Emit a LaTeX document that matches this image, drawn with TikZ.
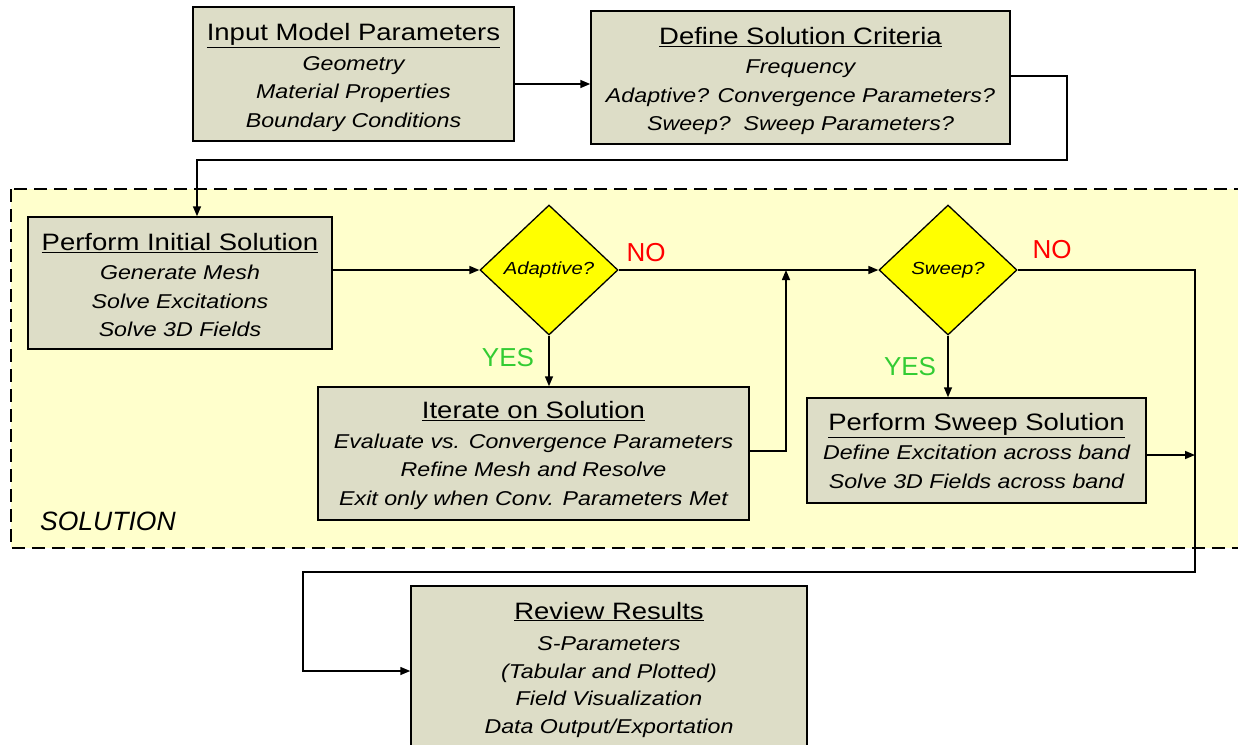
\documentclass[tikz,border=0pt]{standalone}
\usepackage{fontspec}
\setmainfont[FakeStretch=1.16]{Liberation Sans}
\newfontfamily\plainfont{Liberation Sans}
\usetikzlibrary{shapes.geometric,arrows.meta}
\definecolor{boxfill}{RGB}{221,221,199}
\definecolor{regionfill}{RGB}{255,255,204}
\definecolor{diafill}{RGB}{255,255,0}
\definecolor{yesgreen}{RGB}{51,204,51}
\definecolor{nored}{RGB}{255,0,0}
\newcommand\ttl[1]{{\upshape\fontsize{23.7}{28.5}\selectfont\underline{#1}}\\[1pt]}
\tikzset{
  boxshape/.style={draw=black, fill=boxfill, line width=1.5pt, inner sep=0pt},
  boxtxt/.style={align=center, inner sep=0pt, font=\fontsize{20}{28.5}\selectfont\itshape},
  dec/.style={diamond, draw=black, fill=diafill, line width=1.3pt, inner sep=0pt,
    minimum width=138pt, minimum height=130pt, font=\fontsize{17.5}{20}\selectfont\itshape},
  conn/.style={line width=1.5pt, draw=black},
  arr/.style={conn, -{Triangle[length=10pt,width=8pt]}},
  yeslab/.style={text=yesgreen, font=\plainfont\fontsize{26}{28}\selectfont, inner sep=0pt},
  nolab/.style={text=nored, font=\plainfont\fontsize{26}{28}\selectfont, inner sep=0pt},
  region/.style={draw=black, fill=regionfill, line width=1.5pt, dash pattern=on 13pt off 7pt}
}
\begin{document}
\begin{tikzpicture}[x=1pt,y=-1pt]
\useasboundingbox (0,0) rectangle (1238,744);
\clip (0,0) rectangle (1238,744);
\fill[white] (0,0) rectangle (1238,744);
\draw[region] (11,189) rectangle (1250,548);
\node[anchor=west, font=\plainfont\itshape\fontsize{26.5}{28}\selectfont, inner sep=0pt] (sol) at (40,521) {SOLUTION};

\node[boxshape, minimum width=321pt, minimum height=134pt] (inp) at (353.5,74) {};
\node[boxtxt] (inpT) at ([yshift=-3.5pt]inp.center)
  {\ttl{Input Model Parameters}Geometry\\Material Properties\\Boundary Conditions};
\node[boxshape, minimum width=419pt, minimum height=133pt] (crit) at (800.5,77.5) {};
\node[boxtxt] (critT) at ([yshift=-3.5pt]crit.center)
  {\ttl{Define Solution Criteria}Frequency\\Adaptive? Convergence Parameters?\\Sweep?\ \ Sweep Parameters?};
\node[boxshape, minimum width=304pt, minimum height=132pt] (init) at (180,283) {};
\node[boxtxt] (initT) at ([yshift=-2pt]init.center)
  {\ttl{Perform Initial Solution}Generate Mesh\\Solve Excitations\\Solve 3D Fields};
\node[boxshape, minimum width=431pt, minimum height=133pt] (iter) at (533.5,453.5) {};
\node[boxtxt] (iterT) at ([yshift=-2pt]iter.center)
  {\ttl{Iterate on Solution}Evaluate vs. Convergence Parameters\\Refine Mesh and Resolve\\Exit only when Conv. Parameters Met};
\node[boxshape, minimum width=339pt, minimum height=105pt] (swp) at (976.5,450.5) {};
\node[boxtxt] (swpT) at ([yshift=-0.5pt]swp.center)
  {\ttl{Perform Sweep Solution}Define Excitation across band\\Solve 3D Fields across band};
\node[boxshape, minimum width=396pt, minimum height=164pt] (rev) at (609,668) {};
\node[boxtxt, font=\fontsize{20}{27.5}\selectfont\itshape] (revT) at ([yshift=-1.5pt]rev.center)
  {{\upshape\fontsize{23.7}{27.5}\selectfont\underline{Review Results}}\\[4pt]S-Parameters\\(Tabular and Plotted)\\Field Visualization\\Data Output/Exportation};

\node[dec] (adapt) at (549,270) {Adaptive?};
\node[dec] (sweep) at (948,270) {Sweep?};

\node[nolab] (no1) at (646,253) {NO};
\node[nolab] (no2) at (1052,250) {NO};
\node[yeslab] (yes1) at (508,358) {YES};
\node[yeslab] (yes2) at (910,367) {YES};

\coordinate (p84) at (0,84);
\coordinate (c1) at (1067,76);
\coordinate (c2) at (1067,160);
\coordinate (c3) at (197,160);
\coordinate (j1) at (786,451);
\coordinate (r1) at (1195,270);
\coordinate (r2) at (1195,572);
\coordinate (r3) at (303,572);
\coordinate (r4) at (303,671);
\coordinate (p455) at (0,455);

\draw[arr] (inp.east |- p84) -- (crit.west |- p84);
\draw[arr] (crit.east |- c1) -- (c1) -- (c2) -- (c3) -- (init.north -| c3);
\draw[arr] (init.east |- adapt.west) -- (adapt.west);
\draw[arr] (adapt.east) -- (sweep.west);
\draw[arr] (iter.east |- j1) -- (j1) -- (j1 |- adapt.east);
\draw[arr] (adapt.south) -- (adapt.south |- iter.north);
\draw[arr] (sweep.south) -- (sweep.south |- swp.north);
\draw[arr] (sweep.east) -- (sweep.east -| r1) -- (r2) -- (r3) -- (r4) -- (rev.west |- r4);
\draw[arr] (swp.east |- p455) -- (r1 |- p455);
\end{tikzpicture}
\end{document}
